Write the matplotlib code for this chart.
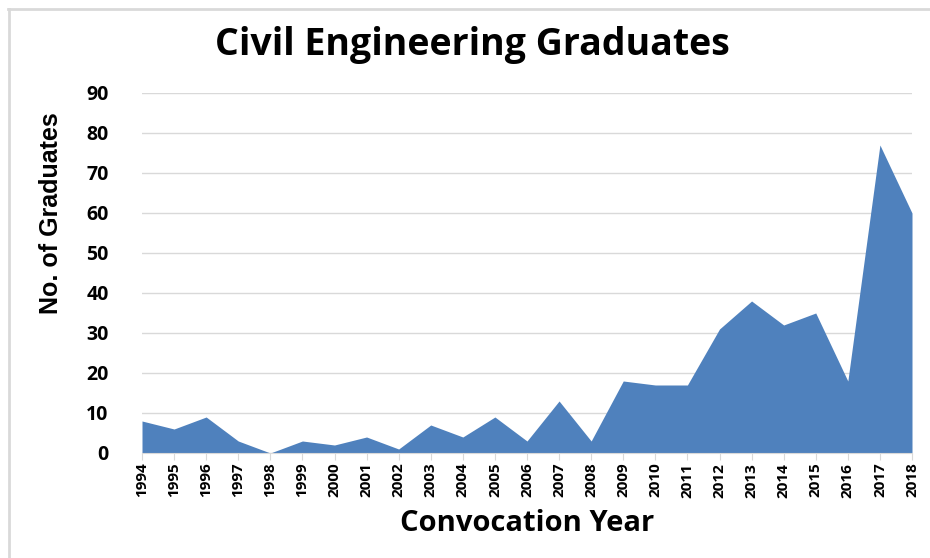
import matplotlib
matplotlib.use("Agg")
import matplotlib.pyplot as plt
from matplotlib.lines import Line2D

years = list(range(1994, 2019))
graduates = [8, 6, 9, 3, 0, 3, 2, 4, 1, 7, 4, 9, 3, 13, 3, 18, 17, 17, 31, 38, 32, 35, 18, 77, 60]
y_ticks = [0, 10, 20, 30, 40, 50, 60, 70, 80, 90]

title = "Civil Engineering Graduates"
xlabel = "Convocation Year"
ylabel = "No. of Graduates"

plt.rcParams['font.family'] = ['Open Sans', 'DejaVu Sans']

fig = plt.figure(figsize=(9.3, 5.58), dpi=100)
ax = fig.add_axes([142/930, 1-453/558, 770/930, 360/558])

ax.fill_between(years, graduates, 0, color='#4F81BD', linewidth=0)
ax.set_xlim(years[0], years[-1])
ax.set_ylim(0, 90)
ax.set_yticks(y_ticks)
ax.set_xticks(years)
ax.set_xticklabels([str(y) for y in years], rotation=90, fontsize=11, fontweight='bold')
ax.set_yticklabels([str(v) for v in y_ticks], fontsize=14, fontweight='bold')
ax.yaxis.grid(True, color='#D9D9D9', linewidth=1)
ax.set_axisbelow(True)
for s in ['top', 'right', 'left']:
    ax.spines[s].set_visible(False)
ax.spines['bottom'].set_color('#D9D9D9')
ax.tick_params(axis='y', length=0, pad=24)
ax.tick_params(axis='x', length=5, color='#D9D9D9', pad=2)

ax.set_xlabel(xlabel, fontsize=21, fontweight='bold', labelpad=8)
ax.set_ylabel(ylabel, fontsize=18, fontweight='bold', family=['Liberation Sans', 'DejaVu Sans'])
ax.yaxis.set_label_coords(-0.103, 0.667)
fig.text(472/930, 1-45/558, title, ha='center', va='center', fontsize=27, fontweight='bold')

# frame lines (top and left)
fig.add_artist(Line2D([8/930, 1], [1-8.5/558, 1-8.5/558], color='#D9D9D9', linewidth=2, transform=fig.transFigure))
fig.add_artist(Line2D([8.5/930, 8.5/930], [0, 1-8.5/558], color='#D9D9D9', linewidth=2, transform=fig.transFigure))

fig.savefig('out.png', dpi=100)
